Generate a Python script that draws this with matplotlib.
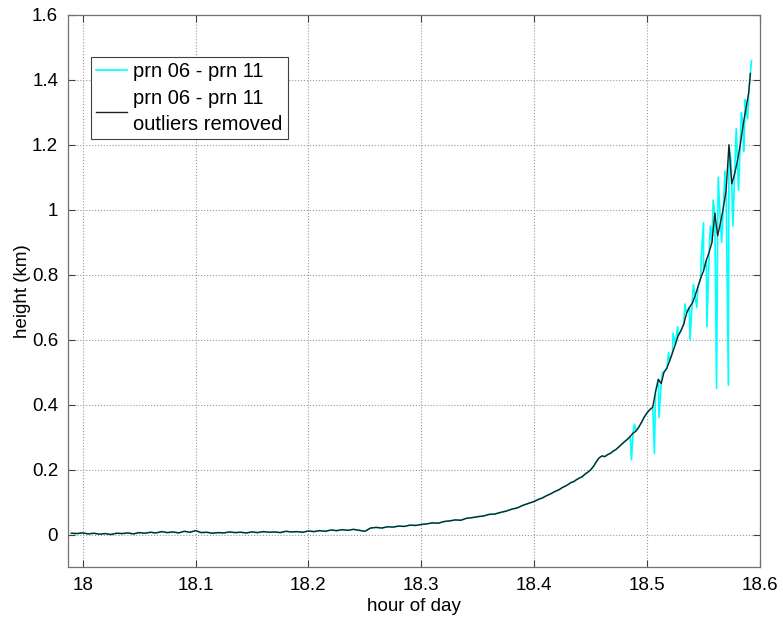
import numpy as np
import matplotlib
matplotlib.use("Agg")
import matplotlib.pyplot as plt

# black line: prn 06 - prn 11, outliers removed
hours = [
    17.990, 17.995, 18.000, 18.005, 18.010, 18.015, 18.020, 18.025, 18.030, 18.035,
    18.040, 18.045, 18.050, 18.055, 18.060, 18.065, 18.070, 18.075, 18.080, 18.085,
    18.090, 18.095, 18.100, 18.105, 18.110, 18.115, 18.120, 18.125, 18.130, 18.135,
    18.140, 18.145, 18.150, 18.155, 18.160, 18.165, 18.170, 18.175, 18.180, 18.185,
    18.190, 18.195, 18.200, 18.205, 18.210, 18.215, 18.220, 18.225, 18.230, 18.235,
    18.240, 18.245, 18.250, 18.255, 18.260, 18.265, 18.270, 18.275, 18.280, 18.285,
    18.290, 18.295, 18.300, 18.305, 18.310, 18.315, 18.320, 18.325, 18.330, 18.335,
    18.340, 18.345, 18.350, 18.355, 18.360, 18.365, 18.370, 18.375, 18.380, 18.385,
    18.390, 18.395,
    18.4000, 18.4025, 18.4050, 18.4075, 18.4100, 18.4125, 18.4150, 18.4175,
    18.4200, 18.4225, 18.4250, 18.4275, 18.4300, 18.4325, 18.4350, 18.4375,
    18.4400, 18.4425, 18.4450, 18.4475, 18.4500, 18.4525, 18.4550, 18.4575,
    18.4600, 18.4625, 18.4650, 18.4675, 18.4700, 18.4725, 18.4750, 18.4775,
    18.4800, 18.4825, 18.4850, 18.4875, 18.4900, 18.4925, 18.4950, 18.4975,
    18.5000, 18.5025, 18.5050, 18.5075, 18.5100, 18.5125, 18.5150, 18.5175,
    18.5200, 18.5225, 18.5250, 18.5275, 18.5300, 18.5325, 18.5350, 18.5375,
    18.5400, 18.5425, 18.5450, 18.5475, 18.5500, 18.5525, 18.5550, 18.5575,
    18.5600, 18.5625, 18.5650, 18.5675, 18.5700, 18.5725, 18.5750, 18.5775,
    18.5800, 18.5825, 18.5850, 18.5875, 18.5900, 18.5915,
]
height_clean = [
    0.004, 0.003, 0.005, 0.002, 0.004, 0.001, 0.003, 0.000, 0.004, 0.003,
    0.005, 0.002, 0.006, 0.004, 0.007, 0.005, 0.009, 0.006, 0.008, 0.005,
    0.010, 0.007, 0.012, 0.006, 0.007, 0.004, 0.006, 0.005, 0.008, 0.006,
    0.007, 0.005, 0.008, 0.006, 0.009, 0.007, 0.008, 0.006, 0.010, 0.008,
    0.009, 0.007, 0.011, 0.009, 0.012, 0.010, 0.014, 0.012, 0.015, 0.013,
    0.016, 0.013, 0.010, 0.020, 0.022, 0.020, 0.024, 0.023, 0.026, 0.025,
    0.029, 0.028, 0.031, 0.033, 0.036, 0.035, 0.040, 0.042, 0.045, 0.044,
    0.050, 0.052, 0.055, 0.057, 0.062, 0.063, 0.068, 0.072, 0.078, 0.082,
    0.090, 0.096,
    0.102, 0.106, 0.110, 0.113, 0.118, 0.122, 0.126, 0.131,
    0.135, 0.139, 0.145, 0.149, 0.154, 0.160, 0.163, 0.169,
    0.174, 0.178, 0.186, 0.192, 0.199, 0.210, 0.224, 0.236,
    0.242, 0.240, 0.246, 0.250, 0.257, 0.262, 0.270, 0.278,
    0.286, 0.293, 0.302, 0.312, 0.318, 0.330, 0.345, 0.362,
    0.375, 0.385, 0.392, 0.440, 0.478, 0.465, 0.500, 0.512,
    0.535, 0.560, 0.585, 0.612, 0.628, 0.648, 0.682, 0.700,
    0.712, 0.735, 0.762, 0.790, 0.812, 0.845, 0.870, 0.900,
    0.990, 0.920, 0.960, 1.005, 1.060, 1.200, 1.080, 1.110,
    1.150, 1.200, 1.260, 1.310, 1.360, 1.420,
]

# extra raw samples (outliers) that only the cyan line has
outlier_hours = [
    18.4862, 18.4888, 18.5065, 18.5105, 18.5135, 18.5190, 18.5230, 18.5270,
    18.5335, 18.5380, 18.5410, 18.5440, 18.5480, 18.5500, 18.5530, 18.5560,
    18.5585, 18.5615, 18.5630, 18.5660, 18.5690, 18.5720, 18.5745, 18.5760,
    18.5790, 18.5810, 18.5835, 18.5855, 18.5870, 18.5890, 18.5925,
]
outlier_height = [
    0.23, 0.34, 0.25, 0.36, 0.50, 0.56, 0.62, 0.64,
    0.71, 0.60, 0.77, 0.70, 0.86, 0.96, 0.64, 0.95,
    1.03, 0.45, 1.10, 0.90, 1.12, 0.46, 1.15, 0.95,
    1.25, 1.06, 1.30, 1.18, 1.34, 1.28, 1.46,
]

# raw series = clean samples + outliers, in time order
raw_t = np.array(hours + outlier_hours)
raw_h = np.array(height_clean + outlier_height)
order = np.argsort(raw_t)
raw_t, raw_h = raw_t[order], raw_h[order]

plt.rcParams['font.family'] = ['Liberation Sans', 'DejaVu Sans']
FS = 13.5

fig = plt.figure(figsize=(7.83, 6.22), dpi=100)
ax = fig.add_axes([0.0868, 0.0884, 0.8838, 0.8875])

ax.plot(raw_t, raw_h, color='cyan', lw=1.2, label='prn 06 - prn 11')
ax.plot(hours, height_clean, color='#202020', lw=1.0,
        label='prn 06 - prn 11\noutliers removed')

ax.set_xlim(17.987, 18.6)
ax.set_ylim(-0.1, 1.6)
ax.set_xticks([18.0, 18.1, 18.2, 18.3, 18.4, 18.5, 18.6])
ax.set_xticklabels(['18', '18.1', '18.2', '18.3', '18.4', '18.5', '18.6'])
ax.set_yticks([0, 0.2, 0.4, 0.6, 0.8, 1.0, 1.2, 1.4, 1.6])
ax.set_yticklabels(['0', '0.2', '0.4', '0.6', '0.8', '1', '1.2', '1.4', '1.6'])
ax.tick_params(direction='in', top=True, right=True, length=5, width=0.8,
               colors='#404040', labelcolor='black', labelsize=FS, pad=7)
ax.grid(True, linestyle=':', color='#999999', lw=0.8)
for s in ax.spines.values():
    s.set_color('#707070')
    s.set_linewidth(0.9)

ax.set_xlabel('hour of day', fontsize=FS, labelpad=3)
ax.set_ylabel('height (km)', fontsize=FS, labelpad=1)

leg = ax.legend(loc='upper left', bbox_to_anchor=(0.033, 0.924), borderaxespad=0,
                fancybox=False, framealpha=1, edgecolor='#404040',
                handlelength=1.55, handletextpad=0.3, borderpad=0.25,
                labelspacing=0.4, fontsize=14.5)
leg.get_frame().set_linewidth(0.8)
for t in leg.get_texts():
    t.set_linespacing(1.45)

fig.savefig('out.png', dpi=100)
